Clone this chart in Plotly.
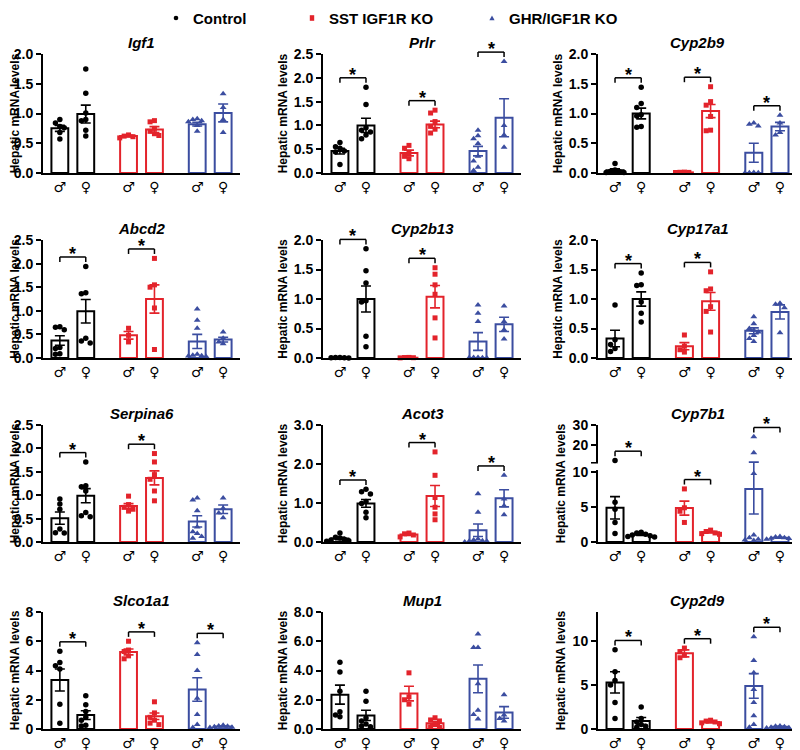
import numpy as np
import plotly.graph_objects as go

# ---------------------------------------------------------------- data
conditions = ["Control", "SST IGF1R KO", "GHR/IGF1R KO"]
sex_labels = ["♂", "♀", "♂", "♀", "♂", "♀"]
# bar order in every panel: Control ♂, Control ♀, SST ♂, SST ♀, GHR ♂, GHR ♀

igf1_mean = [0.75, 0.99, 0.62, 0.73, 0.82, 1.01]
igf1_sem = [0.05, 0.15, 0.015, 0.05, 0.03, 0.15]
igf1_points = [[0.90, 0.84, 0.78, 0.76, 0.68, 0.57],
               [1.75, 1.34, 1.01, 0.90, 0.88, 0.72, 0.62],
               [0.64, 0.62, 0.61, 0.59],
               [0.88, 0.86, 0.75, 0.70, 0.66, 0.63],
               [0.91, 0.90, 0.88, 0.86, 0.80, 0.70],
               [1.33, 1.10, 0.90, 0.68]]
igf1_sig = []
igf1_ticks = [0, 0.5, 1.0, 1.5, 2.0]

prlr_mean = [0.46, 1.00, 0.42, 1.02, 0.46, 1.16]
prlr_sem = [0.06, 0.15, 0.06, 0.07, 0.10, 0.40]
prlr_points = [[0.64, 0.55, 0.52, 0.46, 0.44, 0.18],
               [1.80, 1.44, 0.95, 0.90, 0.86, 0.80, 0.72],
               [0.58, 0.52, 0.42, 0.35, 0.30],
               [1.32, 1.26, 1.08, 0.98, 0.92, 0.84],
               [0.90, 0.78, 0.72, 0.62, 0.35, 0.25, 0.12, 0.05],
               [2.34, 1.00, 0.80, 0.54]]
prlr_sig = [0, 1, 2]
prlr_ticks = [0, 0.5, 1.0, 1.5, 2.0, 2.5]

cyp2b9_mean = [0.045, 1.00, 0.01, 1.04, 0.34, 0.78]
cyp2b9_sem = [0.025, 0.09, 0.003, 0.11, 0.16, 0.07]
cyp2b9_points = [[0.16, 0.05, 0.03, 0.02, 0.01, 0.01],
                 [1.44, 1.17, 1.10, 0.98, 0.96, 0.78, 0.77],
                 [0.015, 0.012, 0.01, 0.008],
                 [1.45, 1.20, 1.14, 0.95, 0.72, 0.71],
                 [0.84, 0.82, 0.79, 0.01, 0.005, 0.005, 0.0],
                 [0.97, 0.84, 0.68, 0.64]]
cyp2b9_sig = [0, 1, 2]
cyp2b9_ticks = [0, 0.5, 1.0, 1.5, 2.0]

abcd2_mean = [0.37, 0.99, 0.48, 1.25, 0.35, 0.39]
abcd2_sem = [0.10, 0.25, 0.08, 0.30, 0.15, 0.05]
abcd2_points = [[0.66, 0.65, 0.60, 0.22, 0.20, 0.09, 0.08],
                [1.94, 1.38, 1.36, 0.42, 0.36, 0.32],
                [0.63, 0.48, 0.34],
                [2.11, 1.55, 1.50, 1.06, 0.18],
                [1.04, 0.80, 0.63, 0.08, 0.06, 0.05, 0.04, 0.03],
                [0.55, 0.42, 0.34, 0.30]]
abcd2_sig = [0, 1]
abcd2_ticks = [0, 0.5, 1.0, 1.5, 2.0, 2.5]

cyp2b13_mean = [0.005, 1.00, 0.005, 1.04, 0.28, 0.57]
cyp2b13_sem = [0.002, 0.22, 0.002, 0.19, 0.15, 0.12]
cyp2b13_points = [[0.01, 0.008, 0.006, 0.004, 0.002],
                  [1.85, 1.48, 1.27, 0.97, 0.95, 0.37, 0.19],
                  [0.01, 0.008, 0.005, 0.002],
                  [1.53, 1.42, 1.24, 1.08, 0.68, 0.34],
                  [0.90, 0.76, 0.62, 0.01, 0.008, 0.005, 0.003, 0.001],
                  [0.88, 0.62, 0.48, 0.32]]
cyp2b13_sig = [0, 1]
cyp2b13_ticks = [0, 0.5, 1.0, 1.5, 2.0]

cyp17a1_mean = [0.33, 1.00, 0.20, 0.96, 0.46, 0.78]
cyp17a1_sem = [0.14, 0.12, 0.06, 0.15, 0.05, 0.12]
cyp17a1_points = [[0.90, 0.31, 0.23, 0.16, 0.11],
                  [1.44, 1.24, 1.23, 0.95, 0.76, 0.61],
                  [0.39, 0.20, 0.14, 0.10],
                  [1.46, 1.17, 1.14, 0.87, 0.79, 0.44],
                  [0.70, 0.58, 0.50, 0.47, 0.44, 0.38, 0.33, 0.28],
                  [0.93, 0.91, 0.85, 0.43]]
cyp17a1_sig = [0, 1]
cyp17a1_ticks = [0, 0.5, 1.0, 1.5, 2.0]

serpina6_mean = [0.51, 0.99, 0.77, 1.37, 0.44, 0.70]
serpina6_sem = [0.13, 0.15, 0.05, 0.15, 0.12, 0.09]
serpina6_points = [[0.92, 0.81, 0.70, 0.28, 0.20, 0.19],
                   [1.71, 1.20, 1.18, 1.09, 0.63, 0.56, 0.54],
                   [0.98, 0.80, 0.74, 0.70, 0.66],
                   [1.89, 1.71, 1.44, 1.34, 1.09, 0.88],
                   [0.94, 0.90, 0.67, 0.32, 0.22, 0.18, 0.12, 0.08],
                   [0.94, 0.72, 0.62, 0.52]]
serpina6_sig = [0, 1]
serpina6_ticks = [0, 0.5, 1.0, 1.5, 2.0, 2.5]

acot3_mean = [0.09, 0.99, 0.19, 1.18, 0.30, 1.12]
acot3_sem = [0.03, 0.10, 0.02, 0.27, 0.16, 0.22]
acot3_points = [[0.23, 0.12, 0.10, 0.07, 0.05, 0.03, 0.02],
                [1.35, 1.29, 1.23, 1.04, 0.99, 0.76, 0.62],
                [0.23, 0.21, 0.18, 0.13],
                [2.31, 1.71, 1.14, 0.89, 0.72, 0.57],
                [1.24, 0.76, 0.08, 0.05, 0.03, 0.02, 0.02, 0.0],
                [1.71, 1.10, 0.93, 0.70]]
acot3_sig = [0, 1, 2]
acot3_ticks = [0, 1.0, 2.0, 3.0]

cyp7b1_mean = [4.9, 1.05, 4.85, 1.4, 7.6, 0.6]
cyp7b1_sem = [1.6, 0.1, 1.0, 0.1, 3.6, 0.05]
cyp7b1_points = [[12.0, 5.7, 4.7, 2.8, 1.2],
                 [1.4, 1.3, 1.1, 1.0, 0.9, 0.8, 0.7],
                 [7.6, 4.9, 4.4, 2.8],
                 [1.7, 1.5, 1.3, 1.2, 1.1],
                 [24.0, 16.0, 9.8, 1.0, 0.6, 0.4, 0.3, 0.2],
                 [0.8, 0.7, 0.6, 0.55, 0.5, 0.4]]
cyp7b1_sig = [0, 1, 2]
cyp7b1_ticks = [0, 5, 10, 20, 30]

slco1a1_mean = [3.35, 0.95, 5.27, 0.87, 2.70, 0.17]
slco1a1_sem = [0.75, 0.30, 0.20, 0.22, 0.80, 0.03]
slco1a1_points = [[5.32, 4.55, 4.32, 4.10, 1.70, 0.39],
                  [2.27, 1.65, 1.20, 0.80, 0.60, 0.25, 0.20],
                  [6.0, 5.4, 5.3, 5.0, 4.8],
                  [1.86, 1.10, 0.80, 0.60, 0.40, 0.30],
                  [5.9, 5.1, 4.0, 2.1, 1.0, 0.3, 0.1],
                  [0.25, 0.20, 0.18, 0.15, 0.12, 0.10]]
slco1a1_sig = [0, 1, 2]
slco1a1_ticks = [0, 2, 4, 6, 8]

mup1_mean = [2.35, 0.93, 2.42, 0.40, 3.43, 1.13]
mup1_sem = [0.65, 0.35, 0.50, 0.11, 0.95, 0.40]
mup1_points = [[4.56, 3.89, 2.58, 1.18, 0.95, 0.84],
               [2.58, 1.90, 0.75, 0.55, 0.35, 0.20, 0.15],
               [3.84, 2.20, 2.00, 1.70],
               [0.77, 0.62, 0.55, 0.30, 0.15, 0.10],
               [6.49, 5.58, 5.58, 3.10, 1.29, 1.00, 0.68],
               [2.35, 0.95, 0.72, 0.54]]
mup1_sig = []
mup1_ticks = [0, 2, 4, 6, 8]

cyp2d9_mean = [5.3, 0.9, 8.6, 0.8, 4.9, 0.25]
cyp2d9_sem = [1.2, 0.4, 0.4, 0.1, 1.4, 0.05]
cyp2d9_points = [[9.0, 6.5, 5.5, 5.0, 3.0, 1.2],
                 [2.5, 1.2, 0.8, 0.5, 0.3, 0.2],
                 [9.2, 8.8, 8.4, 8.1],
                 [1.0, 0.9, 0.8, 0.7, 0.6],
                 [10.5, 7.8, 6.4, 4.5, 3.0, 1.5, 0.5, 0.2],
                 [0.35, 0.30, 0.25, 0.20, 0.15, 0.10]]
cyp2d9_sig = [0, 1, 2]
cyp2d9_ticks = [0, 5, 10]

# ---------------------------------------------------------------- style
OFF = 8                      # page body margin of the browser
W, H = 800 - OFF, 750 - OFF
COLORS = ["#000000", "#e3232b", "#3b4da0"]
SYMBOLS = ["circle", "square", "triangle-up"]
MSIZE = [5.5, 5, 6]
FONT = "Liberation Sans, Arial, sans-serif"
XPOS = np.array([0, 1, 2.65, 3.65, 5.3, 6.3])
XRANGE = [-0.65, 6.95]
BAR_W = 0.65
COLS_PX = [(43, 240), (323, 521), (598, 797)]
ROWS_PX = [(54, 173), (240, 358), (425, 542), (612, 729)]
LEGEND_PX = [176, 312, 492]   # screen x of legend symbols
LEGEND_Y = 18


def ident(v):
    return np.asarray(v, dtype=float)


# broken axis for Cyp7b1: lower segment 0..10.3, upper segment 11..30
LOW_TOP, HIGH_BOT = 10.3, 11.0
GAP_D = 1.08
HIGH_K = 0.2826


def broken(v):
    v = np.asarray(v, dtype=float)
    up0 = LOW_TOP + GAP_D
    return np.where(v <= LOW_TOP, v,
                    np.where(v < HIGH_BOT,
                             LOW_TOP + (v - LOW_TOP) / (HIGH_BOT - LOW_TOP) * GAP_D,
                             up0 + (v - HIGH_BOT) * HIGH_K))


panels = [
    ("Igf1", igf1_mean, igf1_sem, igf1_points, igf1_sig, igf1_ticks, "{:.1f}", ident),
    ("Prlr", prlr_mean, prlr_sem, prlr_points, prlr_sig, prlr_ticks, "{:.1f}", ident),
    ("Cyp2b9", cyp2b9_mean, cyp2b9_sem, cyp2b9_points, cyp2b9_sig, cyp2b9_ticks, "{:.1f}", ident),
    ("Abcd2", abcd2_mean, abcd2_sem, abcd2_points, abcd2_sig, abcd2_ticks, "{:.1f}", ident),
    ("Cyp2b13", cyp2b13_mean, cyp2b13_sem, cyp2b13_points, cyp2b13_sig, cyp2b13_ticks, "{:.1f}", ident),
    ("Cyp17a1", cyp17a1_mean, cyp17a1_sem, cyp17a1_points, cyp17a1_sig, cyp17a1_ticks, "{:.1f}", ident),
    ("Serpina6", serpina6_mean, serpina6_sem, serpina6_points, serpina6_sig, serpina6_ticks, "{:.1f}", ident),
    ("Acot3", acot3_mean, acot3_sem, acot3_points, acot3_sig, acot3_ticks, "{:.1f}", ident),
    ("Cyp7b1", cyp7b1_mean, cyp7b1_sem, cyp7b1_points, cyp7b1_sig, cyp7b1_ticks, "{:g}", broken),
    ("Slco1a1", slco1a1_mean, slco1a1_sem, slco1a1_points, slco1a1_sig, slco1a1_ticks, "{:g}", ident),
    ("Mup1", mup1_mean, mup1_sem, mup1_points, mup1_sig, mup1_ticks, "{:.1f}", ident),
    ("Cyp2d9", cyp2d9_mean, cyp2d9_sem, cyp2d9_points, cyp2d9_sig, cyp2d9_ticks, "{:g}", ident),
]
YMAX = {"Cyp2d9": 13.3}


def jitter(vals, span, step=0.17):
    vals = np.asarray(vals, dtype=float)
    thr = span * 0.042
    order = np.argsort(-vals, kind="stable")
    placed = []
    offs = np.zeros(len(vals))
    for idx in order:
        v = vals[idx]
        chosen = 0.0
        for k in [0, -1, 1, -2, 2, -3, 3, -4, 4]:
            o = k * step
            if all(not (abs(o - po) < step * 0.9 and abs(v - pv) < thr) for po, pv in placed):
                chosen = o
                break
        offs[idx] = chosen
        placed.append((chosen, v))
    return offs


def px_x(p):
    return (p - OFF) / W


def px_y(p):
    return 1 - (p - OFF) / H


fig = go.Figure()
shapes, annotations = [], []
layout_axes = {}

for i, (name, mean, sem, pts, sig, ticks, fmt, tf) in enumerate(panels):
    r, c = divmod(i, 3)
    n = "" if i == 0 else str(i + 1)
    xa, ya = "x" + n, "y" + n
    x0p, x1p = COLS_PX[c]
    t_px, b_px = ROWS_PX[r]
    plot_h = b_px - t_px
    ytop = YMAX.get(name, max(ticks))
    yr = [0, float(tf(ytop))]
    span = yr[1] - yr[0]
    mean = np.asarray(mean, float)
    sem = np.asarray(sem, float)
    dmean = tf(mean)
    dup = tf(mean + sem) - dmean
    dlo = dmean - tf(np.maximum(mean - sem, 0))

    for g in range(3):
        idx = [2 * g, 2 * g + 1]
        fig.add_trace(go.Bar(
            x=XPOS[idx], y=dmean[idx], width=BAR_W, xaxis=xa, yaxis=ya,
            marker=dict(color="white", line=dict(color=COLORS[g], width=2)),
            error_y=dict(type="data", symmetric=False, array=dup[idx], arrayminus=dlo[idx],
                         color=COLORS[g], thickness=1.6, width=5),
            showlegend=False, hoverinfo="skip"))
    for g in range(3):
        xs, ys = [], []
        for k in (2 * g, 2 * g + 1):
            dv = tf(pts[k])
            xs.extend(XPOS[k] + jitter(dv, span))
            ys.extend(dv)
        fig.add_trace(go.Scatter(
            x=xs, y=ys, mode="markers", xaxis=xa, yaxis=ya, cliponaxis=False,
            marker=dict(symbol=SYMBOLS[g], size=MSIZE[g], color=COLORS[g], line=dict(width=0)),
            name=conditions[g], showlegend=False, hoverinfo="skip"))

    xdom = [px_x(x0p), px_x(x1p)]
    ydom = [px_y(b_px), px_y(t_px)]
    tickvals = list(tf(ticks))
    ticktext = [fmt.format(t) for t in ticks]
    if tf is broken:
        tickvals.append(float(tf(HIGH_BOT)))
        ticktext.append("")
    layout_axes["xaxis" + n] = dict(
        domain=xdom, anchor=ya, range=XRANGE, showline=True, linewidth=2, linecolor="black",
        ticks="", tickvals=list(XPOS), ticktext=sex_labels, showgrid=False, zeroline=False,
        automargin=False,
        tickfont=dict(family="DejaVu Sans", size=14, color="black"), fixedrange=True)
    layout_axes["yaxis" + n] = dict(
        domain=ydom, anchor=xa, range=yr, showline=True, linewidth=2, linecolor="black",
        ticks="outside", ticklen=5, tickwidth=2, tickcolor="black",
        tickvals=tickvals, ticktext=ticktext, showgrid=False, zeroline=False,
        automargin=False,
        tickfont=dict(family=FONT, size=14, color="black", weight="bold"),
        title=dict(text="Hepatic mRNA levels", standoff=4,
                   font=dict(family=FONT, size=12, color="black", weight="bold")),
        fixedrange=True)

    annotations.append(dict(
        text="<b><i>%s</i></b>" % name, xref="paper", yref="paper",
        x=(xdom[0] + xdom[1]) / 2, y=px_y(t_px - 1), xanchor="center", yanchor="bottom",
        showarrow=False, font=dict(family=FONT, size=15, color="black")))

    tick_d = 5.0 / plot_h
    for g in sig:
        k1, k2 = 2 * g, 2 * g + 1
        top = max(float(np.max(tf(pts[k1] + pts[k2]))),
                  float(np.max(tf(mean[[k1, k2]] + sem[[k1, k2]]))))
        yb = (top + 0.08 * span - yr[0]) / span
        fx1 = (XPOS[k1] - XRANGE[0]) / (XRANGE[1] - XRANGE[0])
        fx2 = (XPOS[k2] - XRANGE[0]) / (XRANGE[1] - XRANGE[0])
        ln = dict(color="black", width=1.5)
        xr_, yr_ = xa + " domain", ya + " domain"
        shapes.append(dict(type="line", xref=xr_, yref=yr_, x0=fx1, x1=fx2, y0=yb, y1=yb, line=ln))
        shapes.append(dict(type="line", xref=xr_, yref=yr_, x0=fx1, x1=fx1, y0=yb, y1=yb - tick_d, line=ln))
        shapes.append(dict(type="line", xref=xr_, yref=yr_, x0=fx2, x1=fx2, y0=yb, y1=yb - tick_d, line=ln))
        annotations.append(dict(
            text="<b>*</b>", xref=xa, yref=yr_, x=(XPOS[k1] + XPOS[k2]) / 2, y=yb,
            xanchor="center", yanchor="bottom", yshift=-8, showarrow=False, borderpad=0,
            font=dict(family=FONT, size=18, color="black")))

    if tf is broken:
        g0 = (float(tf(LOW_TOP)) - yr[0]) / span
        g1 = (float(tf(HIGH_BOT)) - 0.15 - yr[0]) / span
        shapes.append(dict(type="rect", xref=xa + " domain", yref=ya + " domain",
                           x0=-0.04, x1=0.015, y0=g0, y1=g1, layer="above",
                           line=dict(width=0), fillcolor="white"))

# ---------------------------------------------------------------- legend (symbols + labels)
for g, lx in enumerate(LEGEND_PX):
    cx, cy = lx, LEGEND_Y
    if SYMBOLS[g] == "circle":
        shapes.append(dict(type="circle", xref="paper", yref="paper",
                           x0=px_x(cx - 2.3), x1=px_x(cx + 2.3), y0=px_y(cy + 2.3), y1=px_y(cy - 2.3),
                           fillcolor=COLORS[g], line=dict(width=0)))
    elif SYMBOLS[g] == "square":
        shapes.append(dict(type="rect", xref="paper", yref="paper",
                           x0=px_x(cx - 2.2), x1=px_x(cx + 2.2), y0=px_y(cy + 2.8), y1=px_y(cy - 2.8),
                           fillcolor=COLORS[g], line=dict(width=0)))
    else:
        path = "M %f,%f L %f,%f L %f,%f Z" % (px_x(cx - 2.6), px_y(cy + 2.2),
                                              px_x(cx + 2.6), px_y(cy + 2.2),
                                              px_x(cx), px_y(cy - 2.6))
        shapes.append(dict(type="path", xref="paper", yref="paper", path=path,
                           fillcolor=COLORS[g], line=dict(width=0)))
    annotations.append(dict(
        text="<b>%s</b>" % conditions[g], xref="paper", yref="paper",
        x=px_x(lx + 16), y=px_y(LEGEND_Y), xanchor="left", yanchor="middle",
        showarrow=False, borderpad=0, font=dict(family=FONT, size=15, color="black")))

fig.update_layout(
    template="none",
    width=W, height=H, margin=dict(l=0, r=0, t=0, b=0, autoexpand=False),
    paper_bgcolor="white", plot_bgcolor="white", barmode="overlay", showlegend=False,
    shapes=shapes, annotations=annotations,
    **layout_axes)

fig.write_html("out.html")
